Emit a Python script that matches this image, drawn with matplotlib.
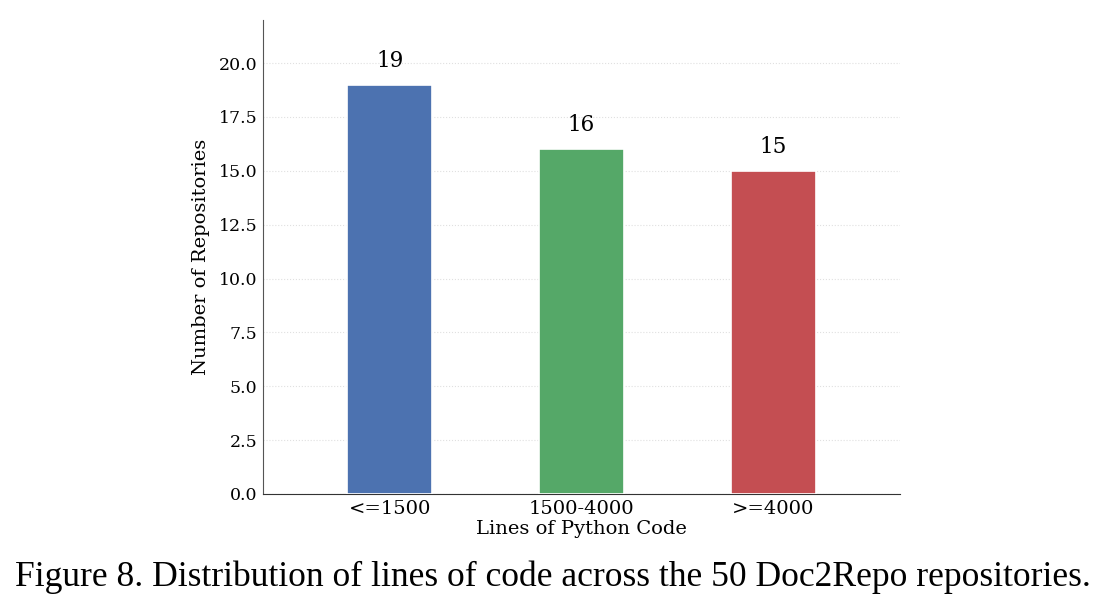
import matplotlib
matplotlib.use("Agg")
import matplotlib.pyplot as plt

categories = ["<=1500", "1500-4000", ">=4000"]
counts = [19, 16, 15]
colors = ["#4C72B0", "#55A868", "#C44E52"]
yticks = [0.0, 2.5, 5.0, 7.5, 10.0, 12.5, 15.0, 17.5, 20.0]
caption = "Figure 8. Distribution of lines of code across the 50 Doc2Repo repositories."

plt.rcParams["font.family"] = ["DejaVu Serif"]

fig = plt.figure(figsize=(11.05, 6.12), dpi=100)
ax = fig.add_axes([263 / 1105, 1 - 494 / 612, (900 - 263) / 1105, (494 - 20) / 612])

x = list(range(len(categories)))
bars = ax.bar(x, counts, width=0.44, color=colors, edgecolor="white", linewidth=1.2, zorder=3)
for xi, c in zip(x, counts):
    ax.text(xi, c + 0.6, str(c), ha="center", va="bottom", fontsize=15.5)

ax.set_xlim(-0.66, 2.66)
ax.set_ylim(0, 22)
ax.set_xticks(x)
ax.set_xticklabels(categories, fontsize=14)
ax.set_yticks(yticks)
ax.set_yticklabels(["%.1f" % v for v in yticks], fontsize=12.5)
ax.tick_params(axis="both", length=0, pad=4)
ax.grid(axis="y", linestyle=":", color="#e0e0e0", linewidth=0.8, zorder=0)
ax.spines["top"].set_visible(False)
ax.spines["right"].set_visible(False)
ax.spines["left"].set_color("#555555")
ax.spines["bottom"].set_color("#333333")
ax.set_xlabel("Lines of Python Code", fontsize=14, labelpad=2)
ax.set_ylabel("Number of Repositories", fontsize=14, labelpad=6)

fig.text(0.5, 1 - 577 / 612, caption, ha="center", va="center",
         fontsize=25.6, family=["Liberation Serif"])

fig.savefig("out.png", dpi=100)
